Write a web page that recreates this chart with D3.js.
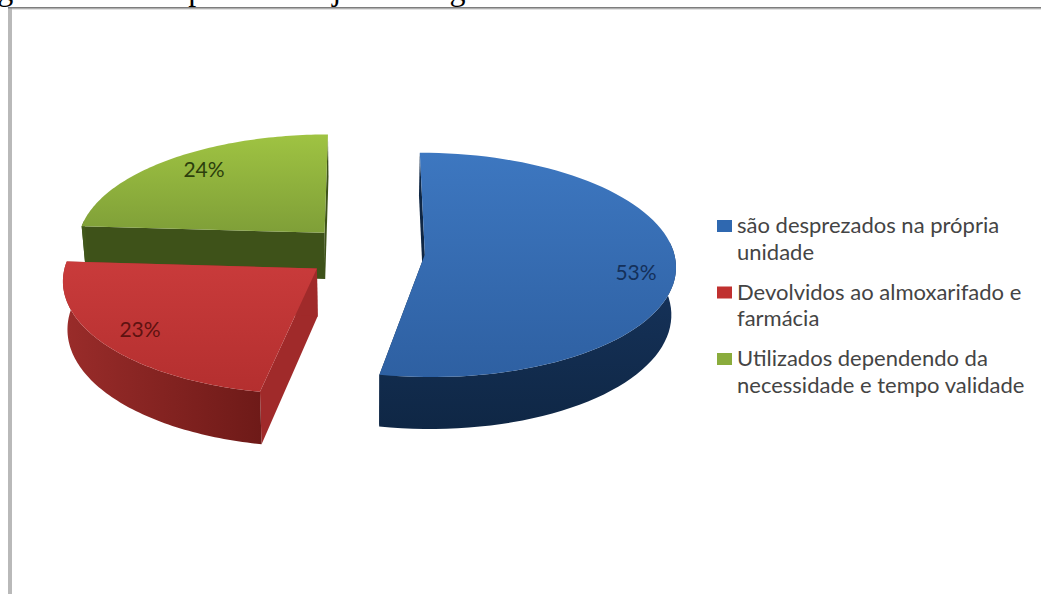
<!DOCTYPE html>
<html lang="pt">
<head>
<meta charset="utf-8">
<title>Destino dos medicamentos</title>
<script src="https://cdn.jsdelivr.net/npm/d3@7/dist/d3.min.js"></script>
<style>
  html, body { margin: 0; padding: 0; background: #fff; overflow: hidden; }
  svg { display: block; }
</style>
</head>
<body>
<svg id="chart" width="1041" height="594"></svg>
<script>
// Chart data
const categories = ["são desprezados na própria unidade", "Devolvidos ao almoxarifado e farmácia", "Utilizados dependendo da necessidade e tempo validade"];
const legendLines = [["são desprezados na própria", "unidade"], ["Devolvidos ao almoxarifado e", "farmácia"], ["Utilizados dependendo da", "necessidade e tempo validade"]];
const percentages = [53, 23, 24];
const percentLabels = ["53%", "23%", "24%"];
const faceColors = [["#3d77c0", "#2e60a2"], ["#c93b3b", "#b42f2f"], ["#9fc342", "#7f9f38"]];
const wallColors = [["#17355f", "#0f2745"], ["#9a2c2a", "#6e1a18"], ["#425a1b", "#3e5219"]];
const cutWallColors = ["#0f2745", "#a02a2a", "#3e5219"];
const legendColors = ["#2f68b0", "#c0302f", "#8aac3c"];
const captionText = "agem durante o período de junho a agosto de 2011.";

const svg = d3.select("#chart");
const defs = svg.append("defs");

// Camera and pie geometry
const view = { x: 365, y: 252, tilt: 0.445, dist: 2700, radius: 249, explode: 60, depth: 47, lean: 0.015 };
const slices = d3.pie().sort(null).value(d => d)(percentages);

// Projects a point on the pie plane (px, angle clockwise from the back) to the screen.
function project(X, Z, lowered) {
  const s = 1 / (1 + Z / view.dist);
  const x = view.x + X * s;
  const y = view.y - Z * view.tilt * s;
  if (!lowered) return [x, y];
  return [x - (x - view.x) * view.lean, y + view.depth * s];
}

function rimPoints(slice, lowered) {
  const mid = (slice.startAngle + slice.endAngle) / 2;
  const ox = Math.sin(mid) * view.explode, oz = Math.cos(mid) * view.explode;
  const angles = d3.range(0, 81).map(i => slice.startAngle + (slice.endAngle - slice.startAngle) * i / 80);
  return {
    apex: project(ox, oz, lowered),
    rim: angles.map(a => project(ox + Math.sin(a) * view.radius, oz + Math.cos(a) * view.radius, lowered)),
    angles
  };
}

const line = d3.line();
function gradient(id, stops, x2, y2) {
  const g = defs.append("linearGradient").attr("id", id)
    .attr("x1", 0).attr("y1", 0).attr("x2", x2).attr("y2", y2);
  g.append("stop").attr("offset", 0).attr("stop-color", stops[0]);
  g.append("stop").attr("offset", 1).attr("stop-color", stops[1]);
  return `url(#${id})`;
}

const pieLayer = svg.append("g");
// Back to front: green, blue, red keeps the overlapping walls correct.
[2, 0, 1].forEach(i => {
  const slice = slices[i];
  const top = rimPoints(slice, false);
  const low = rimPoints(slice, true);
  const face = gradient("face" + i, faceColors[i], 0, 1);
  const wall = gradient("wall" + i, wallColors[i], i === 1 ? 1 : 0, i === 1 ? 0 : 1);
  const g = pieLayer.append("g");

  // Flat cut walls running from the apex to each end of the rim
  [0, top.rim.length - 1].forEach(k => {
    g.append("path")
      .attr("d", line([top.apex, top.rim[k], low.rim[k], low.apex]) + "Z")
      .attr("fill", cutWallColors[i]);
  });

  // Curved outer wall: only the part facing the viewer
  const front = top.rim.map((p, k) => k).filter(k => {
    const a = top.angles[k] % (2 * Math.PI);
    return a > Math.PI / 2 - 0.12 && a < 3 * Math.PI / 2 + 0.12;
  });
  if (front.length) {
    const upper = front.map(k => top.rim[k]);
    const lower = front.map(k => low.rim[k]).reverse();
    g.append("path").attr("d", line(upper.concat(lower)) + "Z").attr("fill", wall);
  }

  g.append("path")
    .attr("d", line([top.apex].concat(top.rim)) + "Z")
    .attr("fill", face);
});

// Percentage labels on the slices
const labelAnchors = d3.scaleOrdinal().domain(percentLabels).range([[636, 280], [140, 337], [204, 177]]);
svg.append("g").selectAll("text").data(percentLabels).join("text")
  .attr("x", d => labelAnchors(d)[0])
  .attr("y", d => labelAnchors(d)[1])
  .attr("text-anchor", "middle")
  .attr("font-family", "Lato, sans-serif")
  .attr("font-size", 21)
  .attr("fill", (d, i) => ["#14305a", "#5e1210", "#2c3f0c"][i])
  .text(d => d);

// Legend
const legendY = d3.scalePoint().domain(categories).range([233, 366]);
const legend = svg.append("g").selectAll("g").data(categories).join("g")
  .attr("transform", d => `translate(717,${legendY(d)})`);
legend.append("rect").attr("x", 0).attr("y", -13).attr("width", 15).attr("height", 12)
  .attr("fill", (d, i) => legendColors[i]);
legend.each(function (d, i) {
  d3.select(this).selectAll("text").data(legendLines[i]).join("text")
    .attr("x", 20)
    .attr("y", (t, k) => k * 26.5)
    .attr("font-family", "Lato, sans-serif")
    .attr("font-size", 22)
    .attr("fill", "#444")
    .text(t => t);
});

// Page frame and the caption line running off its upper edge
const frame = svg.append("g");
frame.append("rect").attr("x", 8).attr("y", 8).attr("width", 1033).attr("height", 2).attr("fill", "#e2e2e2");
frame.append("rect").attr("x", 8).attr("y", 8).attr("width", 4).attr("height", 586).attr("fill", "#b9b9b9");
frame.append("rect").attr("x", 8).attr("y", 7).attr("width", 1033).attr("height", 1.5).attr("fill", "#7d7d7d");
svg.append("text")
  .attr("x", -17).attr("y", 0)
  .attr("font-family", "'Liberation Serif', serif")
  .attr("font-size", 32)
  .attr("fill", "#000")
  .text(captionText);
</script>
</body>
</html>
